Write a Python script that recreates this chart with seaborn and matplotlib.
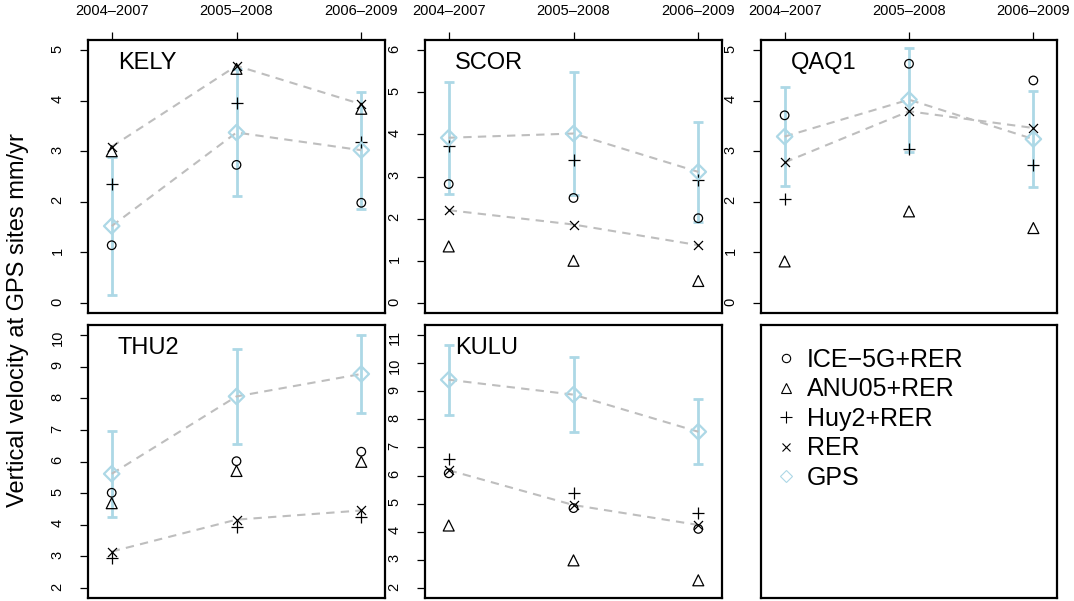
import numpy as np
import pandas as pd
import matplotlib
matplotlib.use('Agg')
import matplotlib.pyplot as plt
from matplotlib.lines import Line2D
import seaborn as sns

#------------------------------------------
periods=['2004–2007', '2005–2008', '2006–2009']
sites=['KELY', 'SCOR', 'QAQ1', 'THU2', 'KULU']

# one row per site, one value per period (mm/yr)
ice5g_rer=[[1.14, 2.73, 1.98], [2.82, 2.49, 2.01], [3.71, 4.73, 4.40],
           [5.01, 6.01, 6.31], [6.08, 4.84, 4.10]]
anu05_rer=[[3.00, 4.63, 3.84], [1.34, 1.00, 0.52], [0.82, 1.81, 1.48],
           [4.68, 5.70, 5.99], [4.22, 2.98, 2.27]]
huy2_rer=[[2.35, 3.95, 3.18], [3.73, 3.39, 2.92], [2.05, 3.04, 2.73],
          [2.94, 3.92, 4.23], [6.60, 5.37, 4.65]]
rer=[[3.09, 4.69, 3.93], [2.20, 1.86, 1.37], [2.78, 3.79, 3.46],
     [3.15, 4.16, 4.45], [6.19, 4.95, 4.24]]
gps=[[1.52, 3.37, 3.02], [3.92, 4.02, 3.11], [3.29, 4.02, 3.24],
     [5.61, 8.06, 8.77], [9.41, 8.88, 7.56]]
gps_err=[[1.36, 1.26, 1.16], [1.33, 1.47, 1.19], [0.98, 1.03, 0.95],
         [1.36, 1.50, 1.22], [1.24, 1.34, 1.16]]

y_range={'KELY':(0, 5), 'SCOR':(0, 6), 'QAQ1':(0, 5), 'THU2':(2, 10), 'KULU':(2, 11)}

ylab='Vertical velocity at GPS sites mm/yr'
labels=['ICE−5G+RER', 'ANU05+RER', 'Huy2+RER', 'RER', 'GPS']

######################################################
c_gps='#add8e6'
c_dash='#bebebe'

sns.set_style('ticks')
plt.rcParams['font.family']=['Liberation Sans', 'DejaVu Sans']
plt.rcParams.update({'text.color':'black', 'axes.labelcolor':'black',
                     'xtick.color':'black', 'ytick.color':'black'})

W, H=1074, 601
fig=plt.figure(figsize=(W/100, H/100), dpi=100)

cols=[(88, 385), (425, 722), (761, 1057)]
rows=[(40, 313), (325, 598)]

def add_ax(r, c):
    x0, x1=cols[c]
    y0, y1=rows[r]
    return fig.add_axes([x0/W, 1-y1/H, (x1-x0)/W, (y1-y0)/H])

l_ax=[add_ax(0, 0), add_ax(0, 1), add_ax(0, 2), add_ax(1, 0), add_ax(1, 1)]
ax_leg=add_ax(1, 2)

x=np.array([1, 2, 3])
mk={'ice':dict(marker='o', s=38, facecolor='none', edgecolor='black', linewidth=0.9),
    'anu':dict(marker='^', s=62, facecolor='none', edgecolor='black', linewidth=0.9),
    'huy':dict(marker='+', s=80, color='black', linewidth=0.9),
    'rer':dict(marker='x', s=42, color='black', linewidth=0.9),
    'gps':dict(marker='D', s=62, facecolor='none', edgecolor=c_gps, linewidth=1.6)}

for i, site in enumerate(sites):
    ax=l_ax[i]
    df=pd.DataFrame({'x':x, 'ice':ice5g_rer[i], 'anu':anu05_rer[i], 'huy':huy2_rer[i],
                     'rer':rer[i], 'gps':gps[i], 'err':gps_err[i]})

    #error bars and dashed trend lines
    ax.errorbar(df['x'], df['gps'], yerr=df['err'], fmt='none', ecolor=c_gps,
                elinewidth=2.0, capsize=3.5, capthick=2.0, zorder=1)
    for col in ['gps', 'rer']:
        sns.lineplot(data=df, x='x', y=col, ax=ax, color=c_dash, lw=1.5,
                     linestyle=(0, (4, 3)), zorder=2)
    for col in ['ice', 'anu', 'huy', 'rer', 'gps']:
        sns.scatterplot(data=df, x='x', y=col, ax=ax, zorder=3, **mk[col])

    #axes
    lo, hi=y_range[site]
    pad=(hi-lo)*0.04
    ax.set_ylim(lo-pad, hi+pad)
    ax.set_xlim(0.81, 3.19)
    ax.set_yticks(range(lo, hi+1))
    ax.set_xlabel('')
    ax.set_ylabel('')
    ax.tick_params(axis='y', labelrotation=90, length=6, width=0.9, pad=11,
                   labelsize=10.5, direction='out')
    if i<3:
        ax.xaxis.tick_top()
        ax.set_xticks(x)
        ax.set_xticklabels(periods)
        ax.tick_params(axis='x', length=6, width=0.9, pad=10, labelsize=10.5)
    else:
        ax.set_xticks([])
    for s in ax.spines.values():
        s.set_linewidth(1.6)
        s.set_color('black')
    ax.text(0.1, 0.915, site, transform=ax.transAxes, fontsize=17,
            ha='left', va='center')

#legend panel
ax_leg.set_xticks([])
ax_leg.set_yticks([])
for s in ax_leg.spines.values():
    s.set_linewidth(1.6)
    s.set_color('black')
handles=[Line2D([], [], ls='none', marker='o', ms=6, mfc='none', mec='black', mew=0.8),
         Line2D([], [], ls='none', marker='^', ms=7, mfc='none', mec='black', mew=0.8),
         Line2D([], [], ls='none', marker='+', ms=8, color='black', mew=0.8),
         Line2D([], [], ls='none', marker='x', ms=6, color='black', mew=0.8),
         Line2D([], [], ls='none', marker='D', ms=6.5, mfc='none', mec=c_gps, mew=0.8)]
ax_leg.legend(handles, labels, loc='upper left', bbox_to_anchor=(-0.027, 0.98),
              frameon=False, fontsize=18, handlelength=1.2, handletextpad=0.25,
              labelspacing=0.22, borderaxespad=0.3)

fig.text(0.017, 0.468, ylab, rotation=90, fontsize=17, ha='center', va='center')

plt.savefig('out.png', dpi=100)
plt.close()
